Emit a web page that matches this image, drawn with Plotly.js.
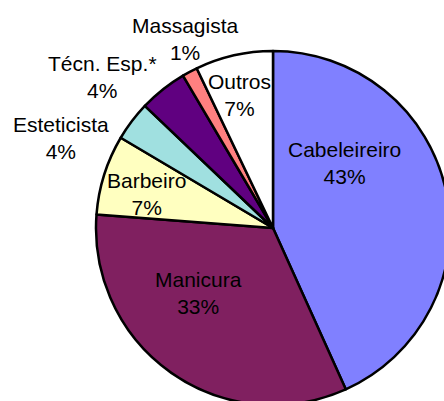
<!DOCTYPE html>
<html>
<head>
<meta charset="utf-8">
<script src="https://cdn.plot.ly/plotly-3.0.1.min.js"></script>
<style>
html, body { margin: 0; padding: 0; overflow: hidden; background: #fff; width: 444px; height: 401px; }
#chart { width: 460px; height: 420px; }
</style>
</head>
<body>
<div id="chart"></div>
<script>
// Data
const categories = ["Cabeleireiro", "Manicura", "Barbeiro", "Esteticista", "Técn. Esp.*", "Massagista", "Outros"];
const shares = [43.3, 33.0, 7.3, 3.6, 4.4, 1.4, 7.1];
const sliceColors = ["#8080FF", "#802060", "#FFFFC0", "#A0E0E0", "#600080", "#FF8080", "#FFFFFF"];

// Layout geometry
const W = 460, H = 420;
const M = { l: 96, t: 51, r: 10, b: 15 };
const PW = W - M.l - M.r, PH = H - M.t - M.b;
// label block centres in page pixels
const labelPx = [[344, 163], [198, 293], [146, 194], [61, 138], [102, 77], [185, 39], [239, 95]];

const total = shares.reduce((a, b) => a + b, 0);
const pctText = shares.map(v => Math.round(v / total * 100) + "%");

const annotations = categories.map((c, i) => ({
  text: c + "<br>" + pctText[i],
  xref: "paper", yref: "paper",
  x: (labelPx[i][0] - M.l) / PW,
  y: 1 - (labelPx[i][1] - M.t) / PH,
  xanchor: "center", yanchor: "middle",
  showarrow: false,
  font: { family: "Liberation Sans, Arial, sans-serif", size: 21, color: "#000" }
}));

const trace = {
  type: "pie",
  labels: categories,
  values: shares,
  sort: false,
  direction: "clockwise",
  rotation: 0,
  textinfo: "none",
  hoverinfo: "none",
  marker: { colors: sliceColors, line: { color: "#000", width: 2.5 } },
  showlegend: false
};

Plotly.newPlot("chart", [trace], {
  width: W, height: H,
  margin: M,
  paper_bgcolor: "#fff",
  plot_bgcolor: "#fff",
  showlegend: false,
  annotations: annotations
}, { staticPlot: true, displayModeBar: false });
</script>
</body>
</html>
